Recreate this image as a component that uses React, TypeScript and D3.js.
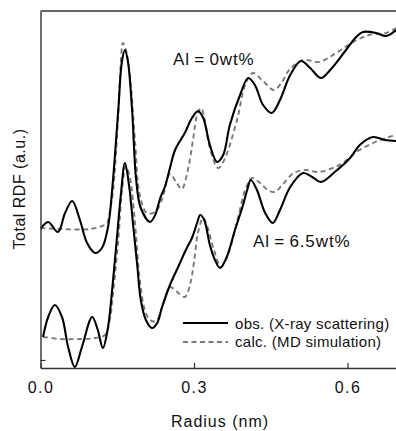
import { useEffect, useRef } from "react";
import * as d3 from "d3";

const width = 396;
const height = 431;
const marginLeft = 40.5;
const marginTop = 11;
const plotBottom = 368;

// Al = 0 wt%, observed (X-ray)
const obs0R = [0.0, 0.015, 0.034, 0.048, 0.062, 0.077, 0.091, 0.107, 0.12, 0.132, 0.14, 0.152, 0.159, 0.165, 0.171, 0.179, 0.187, 0.196, 0.214, 0.224, 0.234, 0.243, 0.253, 0.263, 0.282, 0.296, 0.308, 0.318, 0.331, 0.345, 0.357, 0.37, 0.39, 0.406, 0.419, 0.435, 0.452, 0.468, 0.488, 0.509, 0.527, 0.548, 0.566, 0.597, 0.617, 0.63, 0.656, 0.675, 0.695];
const obs0V = [13.1, 13.8, 12.8, 14.7, 15.9, 14.0, 11.7, 10.7, 11.2, 13.3, 17.0, 25.0, 29.8, 31.0, 29.8, 25.0, 18.0, 15.2, 13.8, 14.5, 16.2, 17.3, 19.2, 21.0, 22.7, 24.2, 24.9, 24.2, 21.5, 19.8, 20.5, 23.5, 26.5, 28.2, 27.5, 25.5, 24.7, 26.0, 28.5, 29.9, 29.2, 28.2, 29.0, 31.0, 32.3, 32.8, 32.7, 32.4, 33.0];

// Al = 0 wt%, calculated (MD)
const calc0R = [0.0, 0.038, 0.097, 0.12, 0.13, 0.136, 0.142, 0.152, 0.157, 0.161, 0.167, 0.175, 0.185, 0.194, 0.208, 0.224, 0.237, 0.253, 0.265, 0.276, 0.288, 0.298, 0.306, 0.314, 0.321, 0.331, 0.347, 0.359, 0.384, 0.4, 0.415, 0.433, 0.456, 0.472, 0.486, 0.513, 0.544, 0.578, 0.611, 0.642, 0.675, 0.695];
const calc0V = [13.2, 13.1, 13.1, 13.4, 13.7, 15.0, 17.0, 24.5, 29.8, 31.7, 31.0, 28.3, 21.7, 16.5, 14.7, 14.8, 16.0, 18.6, 17.8, 17.1, 19.0, 22.0, 24.5, 25.2, 24.0, 21.2, 19.2, 20.0, 24.0, 27.5, 28.7, 28.0, 27.0, 27.8, 29.0, 30.0, 29.8, 30.7, 31.8, 32.5, 32.7, 33.2];

// Al = 6.5 wt%, observed (X-ray)
const obs65R = [0.005, 0.015, 0.028, 0.042, 0.054, 0.067, 0.081, 0.101, 0.112, 0.122, 0.132, 0.14, 0.149, 0.157, 0.165, 0.173, 0.181, 0.189, 0.196, 0.206, 0.218, 0.228, 0.237, 0.253, 0.269, 0.284, 0.296, 0.306, 0.312, 0.32, 0.331, 0.341, 0.351, 0.364, 0.38, 0.394, 0.404, 0.411, 0.423, 0.439, 0.454, 0.468, 0.488, 0.513, 0.531, 0.548, 0.575, 0.605, 0.624, 0.65, 0.673, 0.695];
const obs65V = [2.3, 4.3, 5.5, 4.3, 1.3, -0.7, 1.3, 4.3, 3.0, 1.2, 3.3, 7.0, 12.0, 16.5, 19.7, 17.5, 13.5, 9.5, 6.0, 4.0, 3.2, 3.7, 5.2, 7.5, 9.3, 11.0, 12.2, 13.7, 14.5, 14.0, 11.5, 10.0, 9.2, 10.3, 13.0, 15.2, 17.0, 18.0, 17.0, 14.7, 13.7, 15.0, 17.3, 18.7, 18.3, 17.8, 18.8, 20.2, 21.5, 22.3, 22.0, 21.9];

// Al = 6.5 wt%, calculated (MD)
const calc65R = [0.005, 0.038, 0.077, 0.107, 0.126, 0.136, 0.142, 0.152, 0.159, 0.167, 0.175, 0.185, 0.194, 0.204, 0.214, 0.226, 0.239, 0.253, 0.267, 0.282, 0.292, 0.3, 0.308, 0.318, 0.325, 0.339, 0.353, 0.366, 0.384, 0.4, 0.413, 0.429, 0.444, 0.458, 0.474, 0.495, 0.517, 0.544, 0.571, 0.591, 0.617, 0.65, 0.681, 0.695];
const calc65V = [2.3, 2.1, 2.1, 2.2, 2.5, 4.2, 6.8, 12.0, 16.8, 19.4, 18.2, 13.5, 8.0, 5.0, 4.0, 3.9, 5.5, 7.3, 6.8, 6.3, 7.5, 9.8, 12.8, 14.2, 13.5, 11.0, 9.3, 10.5, 13.8, 17.0, 18.2, 17.7, 17.0, 16.8, 17.6, 18.7, 19.0, 18.8, 19.2, 19.7, 20.8, 21.7, 22.3, 22.5];

const xTicks = [0, 0.3, 0.6];
const yTicks = [0];

const font = "'Liberation Sans', Arial, Helvetica, sans-serif";

const zip = (r: number[], v: number[]) => r.map((d, i) => [d, v[i]] as [number, number]);

export default function App() {
  const xAxisRef = useRef<SVGGElement>(null);
  const yAxisRef = useRef<SVGGElement>(null);

  const xScale = d3.scaleLinear().domain([0, 0.7]).range([marginLeft, marginLeft + 0.7 * 511.7]);
  const yScale = d3.scaleLinear().domain([-0.8, 34.9]).range([plotBottom, marginTop]);

  const line = d3
    .line<[number, number]>()
    .x((d) => xScale(d[0]))
    .y((d) => yScale(d[1]))
    .curve(d3.curveCatmullRom.alpha(0.5));

  useEffect(() => {
    const xAxis = d3
      .axisBottom(xScale)
      .tickValues(xTicks)
      .tickSize(-5)
      .tickSizeOuter(0)
      .tickPadding(14)
      .tickFormat(d3.format(".1f"));
    const gx = d3.select(xAxisRef.current!).call(xAxis as any);
    gx.select(".domain").attr("stroke", "#333").attr("stroke-width", 1.4);
    gx.selectAll(".tick line").attr("stroke", "#333").attr("stroke-width", 1.2);
    gx.selectAll(".tick text")
      .attr("font-size", 16)
      .attr("font-family", font)
      .attr("letter-spacing", 1.4)
      .attr("fill", "#111");

    const yAxis = d3.axisLeft(yScale).tickValues(yTicks).tickSize(-5).tickSizeOuter(0).tickFormat(() => "");
    const gy = d3.select(yAxisRef.current!).call(yAxis as any);
    gy.select(".domain").attr("stroke", "#333").attr("stroke-width", 1.4);
    gy.selectAll(".tick line").attr("stroke", "#333").attr("stroke-width", 1.2);
  }, []);

  const series = [
    { data: zip(calc0R, calc0V), dashed: true },
    { data: zip(calc65R, calc65V), dashed: true },
    { data: zip(obs0R, obs0V), dashed: false },
    { data: zip(obs65R, obs65V), dashed: false },
  ];

  return (
    <svg width={width} height={height} style={{ position: "absolute", left: 0, top: 0, background: "#fff" }}>
      <defs>
        <clipPath id="plot-clip">
          <rect x={marginLeft} y={marginTop} width={width - marginLeft} height={plotBottom - marginTop} />
        </clipPath>
      </defs>

      <g clipPath="url(#plot-clip)">
        {series.map((s, i) => (
          <path
            key={i}
            d={line(s.data) || ""}
            fill="none"
            stroke={s.dashed ? "#7a7a7a" : "#000"}
            strokeWidth={s.dashed ? 1.9 : 2.1}
            strokeDasharray={s.dashed ? "5,3.5" : undefined}
            strokeLinejoin="round"
          />
        ))}
      </g>

      {/* frame */}
      <line x1={marginLeft} x2={width} y1={marginTop} y2={marginTop} stroke="#333" strokeWidth={1.4} />
      <g ref={xAxisRef} transform={`translate(0,${plotBottom})`} />
      <g ref={yAxisRef} transform={`translate(${marginLeft},0)`} />

      {/* annotations */}
      <text x={173} y={65} fontSize={17} letterSpacing={0.9} fontFamily={font} fill="#111">
        Al{"\u2009"}={"\u2009"}0wt%
      </text>
      <text x={253} y={247} fontSize={17} letterSpacing={0.9} fontFamily={font} fill="#111">
        Al{"\u2009"}={"\u2009"}6.5wt%
      </text>

      {/* legend */}
      <line x1={183} x2={228} y1={323} y2={323} stroke="#000" strokeWidth={2.1} />
      <line x1={183} x2={228} y1={342} y2={342} stroke="#7a7a7a" strokeWidth={1.9} strokeDasharray="5,3.5" />
      <text x={235} y={329} fontSize={15} letterSpacing={0.3} fontFamily={font} fill="#111">
        obs. (X-ray scattering)
      </text>
      <text x={235} y={347} fontSize={15} letterSpacing={0.3} fontFamily={font} fill="#111">
        calc. (MD simulation)
      </text>

      {/* axis labels */}
      <text x={220} y={427} textAnchor="middle" fontSize={16} letterSpacing={1} fontFamily={font} fill="#111">
        Radius (nm)
      </text>
      <text
        transform={`translate(25,189) rotate(-90)`}
        textAnchor="middle"
        fontSize={16}
        letterSpacing={0.5}
        fontFamily={font}
        fill="#111"
      >
        Total RDF (a.u.)
      </text>
    </svg>
  );
}
